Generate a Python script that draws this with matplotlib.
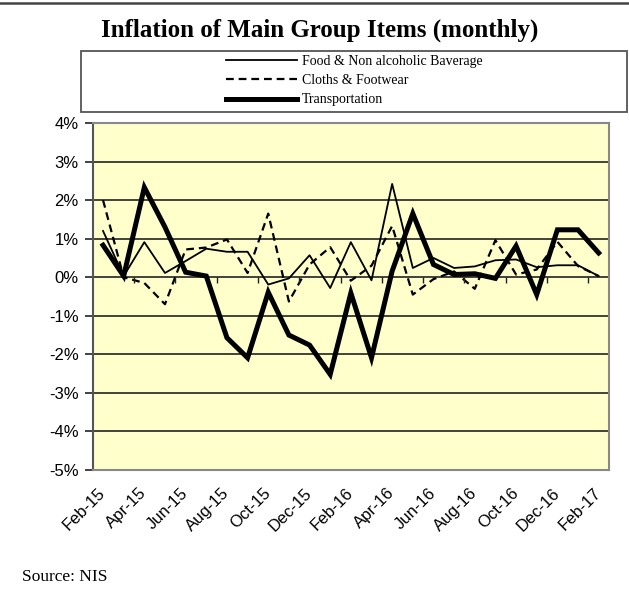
import numpy as np
import matplotlib
matplotlib.use('Agg')
import matplotlib.pyplot as plt
from matplotlib.patches import Rectangle
from matplotlib.lines import Line2D

plt.rcParams['font.family'] = ['Liberation Serif', 'DejaVu Serif']

# Data (monthly inflation %, Feb-15 .. Feb-17)
months = ['Feb-15', 'Mar-15', 'Apr-15', 'May-15', 'Jun-15', 'Jul-15', 'Aug-15',
          'Sep-15', 'Oct-15', 'Nov-15', 'Dec-15', 'Jan-16', 'Feb-16', 'Mar-16',
          'Apr-16', 'May-16', 'Jun-16', 'Jul-16', 'Aug-16', 'Sep-16', 'Oct-16',
          'Nov-16', 'Dec-16', 'Jan-17', 'Feb-17']
food = [1.20, 0.03, 0.91, 0.11, 0.42, 0.74, 0.66, 0.66, -0.19, -0.03, 0.57, -0.28,
        0.91, -0.08, 2.42, 0.24, 0.50, 0.24, 0.28, 0.44, 0.46, 0.26, 0.31, 0.31, 0.03]
cloths = [2.00, 0.00, -0.15, -0.70, 0.72, 0.77, 0.98, 0.11, 1.65, -0.63, 0.33, 0.78,
          -0.09, 0.30, 1.33, -0.45, -0.05, 0.15, -0.30, 0.96, 0.07, 0.20, 0.92, 0.29, 0.03]
transport = [0.83, 0.03, 2.33, 1.30, 0.13, 0.03, -1.57, -2.09, -0.39, -1.50, -1.76, -2.52,
             -0.41, -2.09, 0.16, 1.65, 0.33, 0.07, 0.09, -0.03, 0.81, -0.45, 1.23, 1.23, 0.63]
series_names = ['Food & Non alcoholic Baverage', 'Cloths & Footwear', 'Transportation']
yticks = [4, 3, 2, 1, 0, -1, -2, -3, -4, -5]

W, H = 629, 596
fig = plt.figure(figsize=(W / 100, H / 100), dpi=100)

def fx(px):
    return px / W

def fy(py):
    return 1 - py / H

ax = fig.add_axes([fx(92.7), fy(470), fx(609) - fx(92.7), fy(123) - fy(470)])
ax.set_facecolor('#FFFFCC')

x = np.arange(len(months))
l1, = ax.plot(x, food, color='black', lw=1.3, label=series_names[0])
l2, = ax.plot(x, cloths, color='black', lw=1.6, ls=(0, (3.5, 2.2)), label=series_names[1])
l3, = ax.plot(x, transport, color='black', lw=3.6, solid_joinstyle='miter',
              label=series_names[2])

ax.set_xlim(-0.5, len(months) - 0.5)
ax.set_ylim(-5, 4)
ax.set_yticks(yticks)
ax.set_yticklabels([f'{v}%' for v in yticks], fontsize=12, family='Liberation Sans')
for v in yticks[1:-1]:
    ax.axhline(v, color='#222222', lw=1.2, zorder=1)

ax.set_xticks(x[::2])
ax.set_xticklabels(months[::2], rotation=45, ha='right', va='center',
                   rotation_mode='anchor', fontsize=12, family='Liberation Sans')
ax.tick_params(axis='x', length=0, pad=15)
ax.tick_params(axis='y', length=6, width=1.2, color='#222222', pad=4)

# tick marks on the zero line between categories
ax.vlines(np.arange(1.5, len(months) - 1, 2), -0.14, 0, color='#222222', lw=1.0, zorder=2)

for s in ['top', 'right', 'bottom']:
    ax.spines[s].set_color('#888888')
    ax.spines[s].set_linewidth(1.5)
ax.spines['left'].set_color('#555555')
ax.spines['left'].set_linewidth(1.5)

fig.text(fx(320), fy(30), 'Inflation of Main Group Items (monthly)', fontsize=18,
         fontweight='bold', ha='center', va='center')

# legend box
fig.patches.append(Rectangle((fx(80.7), fy(112)), fx(627) - fx(80.7), fy(51) - fy(112),
                             transform=fig.transFigure, fill=False, edgecolor='#555555',
                             lw=1.3))
fig.legend(handles=[l1, l2, l3], loc='upper left', bbox_to_anchor=(fx(226), fy(55)),
           frameon=False, fontsize=10, handlelength=5.1, handletextpad=0.36,
           labelspacing=0.45, borderpad=0, borderaxespad=0)

# top border line
fig.lines.append(Line2D([0, 1], [fy(3), fy(3)], transform=fig.transFigure,
                        color='#444444', lw=1.8))

fig.text(fx(22), fy(577), 'Source: NIS', fontsize=12.5, ha='left', va='center')

fig.savefig('out.png', dpi=100)
